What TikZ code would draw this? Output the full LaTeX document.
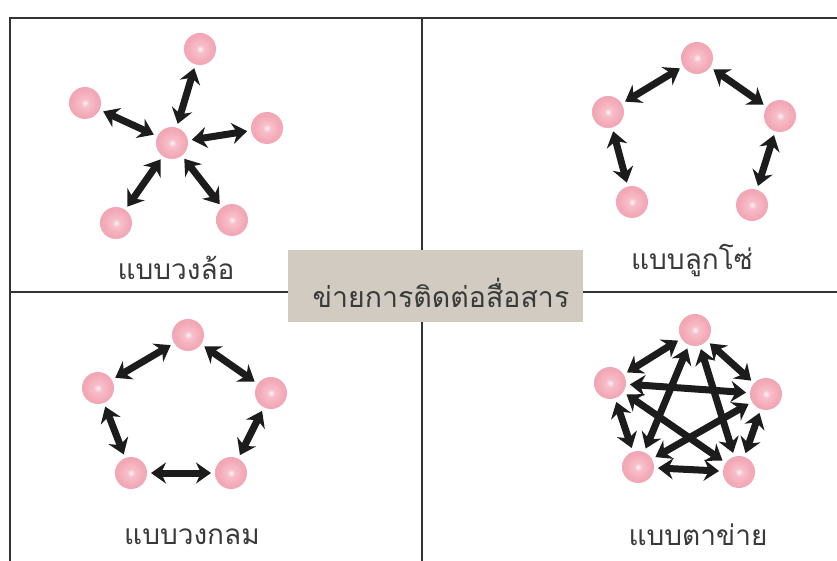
\documentclass[tikz,border=0pt]{standalone}
\usepackage{fontspec}
\usetikzlibrary{arrows.meta}
\newfontfamily\thaifont[Script=Thai]{Loma}
\definecolor{sphin}{HTML}{FFF4F6}
\definecolor{sphmid}{HTML}{F7BFCA}
\definecolor{sphc}{HTML}{F3A9B7}
\definecolor{sphedge}{HTML}{EC9CAC}
\definecolor{boxfill}{HTML}{D1CBC2}
\definecolor{txt}{HTML}{3A3A3A}
\definecolor{arrc}{HTML}{1C1C1C}
\pgfdeclareradialshading{sph}{\pgfpoint{0bp}{0bp}}{color(0bp)=(sphin); color(6bp)=(sphmid); color(20bp)=(sphc); color(45bp)=(sphedge); color(50bp)=(sphedge)}
\tikzset{
  ball/.style={circle, minimum size=32pt, inner sep=0pt, outer sep=4pt, shading=sph},
  arr/.style={draw=arrc, line width=7pt,
    {Stealth[length=15pt,width=21pt,inset=5pt]}-{Stealth[length=15pt,width=21pt,inset=5pt]}},
  frameline/.style={draw=black!80, line width=1.2pt},
  lbl/.style={font=\thaifont\fontsize{28}{32}\selectfont, text=txt, inner sep=0pt},
}
\begin{document}
\begin{tikzpicture}[x=1pt,y=-1pt]
\useasboundingbox (0,0) rectangle (837,561);
\fill[white] (0,0) rectangle (837,561);
% frame
\coordinate (tl) at (10,18);
\coordinate (tr) at (837,18);
\coordinate (bl) at (10,561);
\coordinate (mt) at (422,18);
\coordinate (mb) at (422,561);
\coordinate (ml) at (10,292);
\coordinate (mr) at (837,292);
\draw[frameline] (tr) -- (tl) -- (bl);
\draw[frameline] (mt) -- (mb);
\draw[frameline] (ml) -- (mr);
% center box
\node[fill=boxfill, minimum width=295pt, minimum height=72pt, inner sep=0pt] (title) at (435.5,286) {};
\node[lbl, font=\thaifont\fontsize{28.5}{32}\selectfont] (titletxt) at (441,293) {ข่ายการติดต่อสื่อสาร};
% wheel
\node[ball] (w0) at (172,143) {};
\node[ball] (w1) at (200,49) {};
\node[ball] (w2) at (267,128) {};
\node[ball] (w3) at (232,220) {};
\node[ball] (w4) at (116,223) {};
\node[ball] (w5) at (85,103) {};
\foreach \i in {1,...,5} \draw[arr] (w0) -- (w\i);
\node[lbl] (wl) at (176,268) {แบบวงล้อ};
% chain
\node[ball] (c1) at (697,58) {};
\node[ball] (c2) at (780,116) {};
\node[ball] (c3) at (752,205) {};
\node[ball] (c4) at (632,202) {};
\node[ball] (c5) at (608,112) {};
\draw[arr] (c1) -- (c2);
\draw[arr] (c2) -- (c3);
\draw[arr] (c1) -- (c5);
\draw[arr] (c5) -- (c4);
\node[lbl] (cl) at (692,261) {แบบลูกโซ่};
% circle
\node[ball] (r1) at (188,335) {};
\node[ball] (r2) at (271,393) {};
\node[ball] (r3) at (231,473) {};
\node[ball] (r4) at (131,473) {};
\node[ball] (r5) at (98,388) {};
\draw[arr] (r1) -- (r2);
\draw[arr] (r2) -- (r3);
\draw[arr] (r3) -- (r4);
\draw[arr] (r4) -- (r5);
\draw[arr] (r5) -- (r1);
\node[lbl] (rl) at (192,537) {แบบวงกลม};
% mesh
\node[ball] (m1) at (695,330) {};
\node[ball] (m2) at (766,394) {};
\node[ball] (m3) at (739,472) {};
\node[ball] (m4) at (638,467) {};
\node[ball] (m5) at (610,383) {};
\draw[arr] (m1) -- (m2);
\draw[arr] (m2) -- (m3);
\draw[arr] (m3) -- (m4);
\draw[arr] (m4) -- (m5);
\draw[arr] (m5) -- (m1);
\draw[arr] (m1) -- (m3);
\draw[arr] (m1) -- (m4);
\draw[arr] (m5) -- (m2);
\draw[arr] (m5) -- (m3);
\draw[arr] (m2) -- (m4);
\node[lbl] (ml2) at (698,535) {แบบตาข่าย};
\end{tikzpicture}
\end{document}
